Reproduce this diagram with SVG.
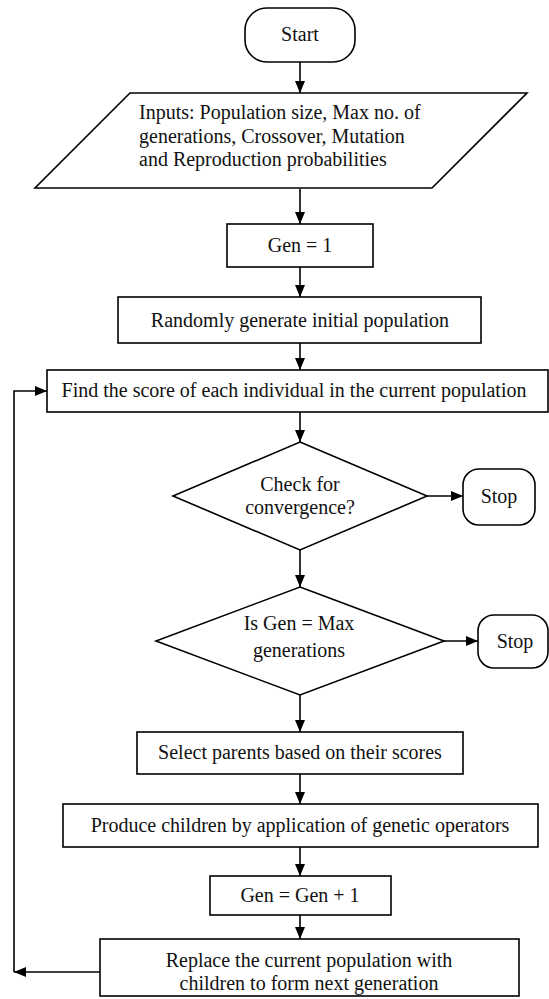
<svg xmlns="http://www.w3.org/2000/svg" width="549" height="999" viewBox="0 0 549 999">
<style>
.s{fill:#fff;stroke:#000;stroke-width:1.6}
.t{font-family:"Liberation Serif","Times New Roman",serif;font-size:20px;fill:#111}
.m{text-anchor:middle}
.c{fill:none;stroke:#000;stroke-width:1.6}
</style>
<defs>
<marker id="a" viewBox="0 0 12 10" refX="12" refY="5" markerWidth="12" markerHeight="10" markerUnits="userSpaceOnUse" orient="auto">
<path d="M0,0 L12,5 L0,10 z" fill="#000"/>
</marker>
</defs>
<rect width="549" height="999" fill="#fff"/>
<g id="connectors">
<line class="c" x1="300" y1="62" x2="300" y2="93" marker-end="url(#a)"/>
<line class="c" x1="300" y1="189" x2="300" y2="224" marker-end="url(#a)"/>
<line class="c" x1="300" y1="267" x2="300" y2="297" marker-end="url(#a)"/>
<line class="c" x1="300" y1="343" x2="300" y2="370" marker-end="url(#a)"/>
<line class="c" x1="300" y1="412" x2="300" y2="442" marker-end="url(#a)"/>
<line class="c" x1="427" y1="496" x2="463" y2="496" marker-end="url(#a)"/>
<line class="c" x1="300" y1="550" x2="300" y2="587" marker-end="url(#a)"/>
<line class="c" x1="444" y1="641" x2="478" y2="641" marker-end="url(#a)"/>
<line class="c" x1="300" y1="695" x2="300" y2="732" marker-end="url(#a)"/>
<line class="c" x1="300" y1="774" x2="300" y2="804" marker-end="url(#a)"/>
<line class="c" x1="300" y1="847" x2="300" y2="876" marker-end="url(#a)"/>
<line class="c" x1="300" y1="915" x2="300" y2="939" marker-end="url(#a)"/>
<line class="c" x1="100" y1="972" x2="14" y2="972" marker-end="url(#a)"/>
<polyline class="c" points="14,972 14,391 47,391" marker-end="url(#a)"/>
</g>
<g id="start">
<rect class="s" x="245" y="8" width="110" height="54" rx="22" ry="22"/>
<text class="t m" x="300" y="41">Start</text>
</g>
<g id="inputs">
<polygon class="s" points="130,93 527,93 432,188 35,188"/>
<text class="t" x="139" y="119">Inputs: Population size, Max no. of</text>
<text class="t" x="139" y="143">generations, Crossover, Mutation</text>
<text class="t" x="139" y="166">and Reproduction probabilities</text>
</g>
<g id="gen1">
<rect class="s" x="227" y="224" width="146" height="43"/>
<text class="t m" x="300" y="252">Gen = 1</text>
</g>
<g id="random">
<rect class="s" x="118" y="297" width="363" height="46"/>
<text class="t m" x="300" y="327">Randomly generate initial population</text>
</g>
<g id="score">
<rect class="s" x="47" y="370" width="501" height="42"/>
<text class="t m" x="294" y="397">Find the score of each individual in the current population</text>
</g>
<g id="converge">
<polygon class="s" points="300,442 427,496 300,550 173,496"/>
<text class="t m" x="300" y="491">Check for</text>
<text class="t m" x="300" y="514">convergence?</text>
</g>
<g id="stop1">
<rect class="s" x="463" y="469" width="72" height="56" rx="16" ry="16"/>
<text class="t m" x="499" y="503">Stop</text>
</g>
<g id="maxgen">
<polygon class="s" points="300,587 444,641 300,695 156,641"/>
<text class="t m" x="299" y="630">Is Gen = Max</text>
<text class="t m" x="299" y="657">generations</text>
</g>
<g id="stop2">
<rect class="s" x="478" y="615" width="70" height="53" rx="16" ry="16"/>
<text class="t m" x="515" y="648">Stop</text>
</g>
<g id="select">
<rect class="s" x="137" y="732" width="326" height="42"/>
<text class="t m" x="300" y="759">Select parents based on their scores</text>
</g>
<g id="produce">
<rect class="s" x="63" y="804" width="475" height="43"/>
<text class="t m" x="300" y="832">Produce children by application of genetic operators</text>
</g>
<g id="gen_inc">
<rect class="s" x="210" y="876" width="181" height="39"/>
<text class="t m" x="300" y="902">Gen = Gen + 1</text>
</g>
<g id="replace">
<rect class="s" x="100" y="939" width="419" height="57"/>
<text class="t m" x="309" y="967">Replace the current population with</text>
<text class="t m" x="309" y="990">children to form next generation</text>
</g>
</svg>
